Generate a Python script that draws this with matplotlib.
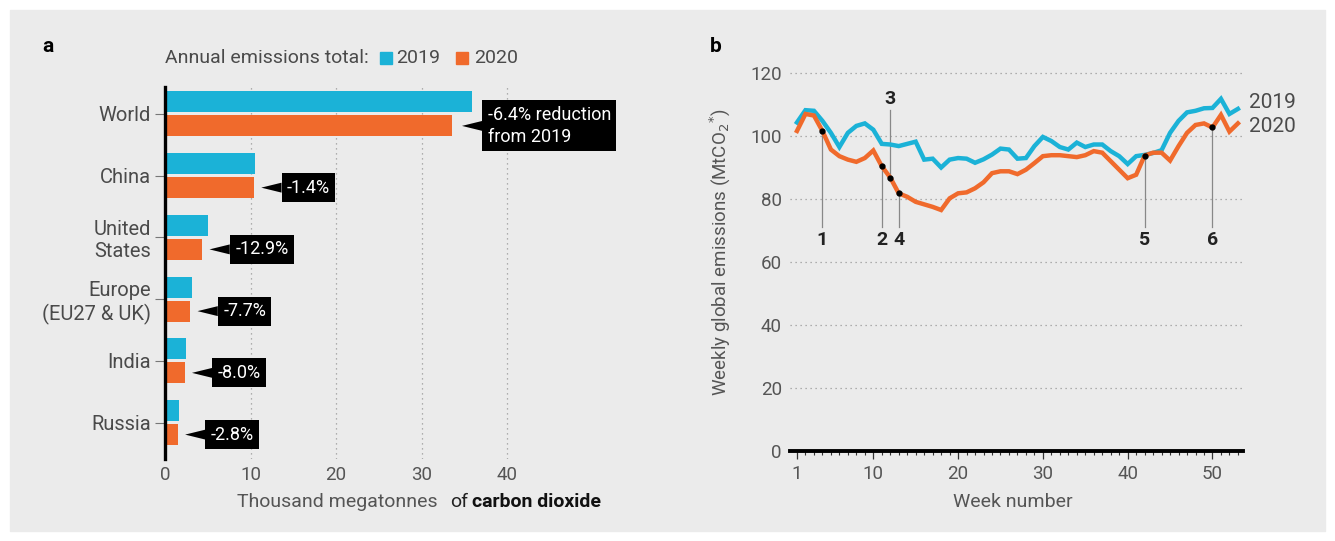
import numpy as np
import matplotlib
matplotlib.use("Agg")
import matplotlib.pyplot as plt
from matplotlib.patches import Rectangle

plt.rcParams['font.family'] = ['Roboto', 'DejaVu Sans']

# panel a: annual totals (thousand Mt CO2)
regions = ["World", "China", "United\nStates", "Europe\n(EU27 & UK)", "India", "Russia"]
total_2019 = [35.9, 10.5, 5.0, 3.1, 2.5, 1.6]
total_2020 = [33.5, 10.4, 4.35, 2.95, 2.3, 1.5]
change_labels = ["-6.4% reduction\nfrom 2019", "-1.4%", "-12.9%", "-7.7%", "-8.0%", "-2.8%"]

# panel b: weekly global emissions (MtCO2)
weeks = list(range(1, 54))
emis_2019 = [104.3, 108.2, 108.0, 104.8, 101.0, 96.5, 101.0, 103.2, 104.0, 102.0,
             97.5, 97.3, 96.8, 97.5, 98.2, 92.5, 92.8, 90.0, 92.5, 93.0,
             92.8, 91.5, 92.6, 94.1, 96.0, 95.7, 92.8, 93.0, 96.8, 99.7,
             98.4, 96.5, 95.7, 97.9, 96.5, 97.3, 97.3, 95.2, 93.6, 91.1,
             93.6, 94.0, 94.6, 95.5, 101.0, 104.8, 107.5, 108.0, 108.8, 108.9,
             111.8, 107.0, 108.6]
emis_2020 = [101.6, 107.0, 106.5, 101.6, 95.7, 93.6, 92.5, 91.8, 93.0, 95.4,
             90.4, 86.8, 81.8, 80.7, 79.1, 78.3, 77.5, 76.5, 80.2, 81.8,
             82.1, 83.4, 85.3, 88.2, 88.8, 88.8, 87.9, 89.3, 91.4, 93.6,
             93.9, 93.9, 93.6, 93.3, 93.9, 95.2, 94.7, 92.0, 89.3, 86.6,
             87.7, 93.8, 94.7, 94.7, 92.2, 96.8, 101.0, 103.5, 104.0, 102.7,
             106.7, 101.4, 104.0]
event_weeks = [4, 11, 12, 13, 42, 50]
event_labels = ["1", "2", "3", "4", "5", "6"]

C19 = '#1BB2D7'
C20 = '#F06A2C'
BG = '#EBEBEB'
GREY = '#4a4a4a'

W, H = 1335, 541
fig = plt.figure(figsize=(W / 100, H / 100), dpi=100, facecolor='white')
fig.patches.append(Rectangle((10 / W, 10 / H), 1 - 20 / W, 1 - 20 / H,
                             transform=fig.transFigure, color=BG, zorder=-10))

def fx(x):
    return x / W

def fy(y):
    return 1 - y / H

# ---------------- panel a ----------------
ax = fig.add_axes([fx(165), fy(459), fx(610) - fx(165), fy(86.7) - fy(459)])
ax.set_facecolor('none')
ypos = np.arange(len(regions))
h = 0.34
ax.barh(ypos - 0.195, total_2019, height=h, color=C19, zorder=3)
ax.barh(ypos + 0.195, total_2020, height=h, color=C20, zorder=3)
ax.set_xlim(0, 52)
ax.set_ylim(5.59, -0.44)
ax.set_yticks(ypos)
ax.set_yticklabels(regions, fontsize=14.5, color=GREY, linespacing=1.2)
ax.set_xticks([0, 10, 20, 30, 40])
ax.tick_params(axis='x', length=0, pad=5, labelsize=13.5, labelcolor='#555555')
ax.tick_params(axis='y', length=7, width=0.8, color='#777777', pad=3)
for s in ['top', 'right', 'bottom']:
    ax.spines[s].set_visible(False)
ax.spines['left'].set_linewidth(2.4)
ax.spines['left'].set_color('black')
ax.spines['left'].set_zorder(4)
ax.xaxis.grid(True, linestyle=(0, (1, 3)), color='#999999', linewidth=0.9)
ax.set_axisbelow(True)

for i, (v, lab) in enumerate(zip(total_2020, change_labels)):
    gap = 1.2 if i == 0 else 0.85
    tip = v + gap
    ax.annotate(lab, xy=(tip, i + 0.195), xytext=(tip + 3.0, i + 0.195),
                ha='left', va='center', color='white', fontsize=13,
                linespacing=1.3,
                bbox=dict(boxstyle='square,pad=0.3', fc='black', ec='none'),
                arrowprops=dict(arrowstyle='wedge,tail_width=0.55,shrink_factor=0.5',
                                fc='black', ec='none', shrinkA=0, shrinkB=0),
                zorder=5, annotation_clip=False)

fig.text(fx(48), fy(46), "a", fontsize=15, fontweight='bold', ha='center', va='center')
fig.text(fx(165), fy(58), "Annual emissions total:", fontsize=14, color=GREY,
         ha='left', va='center')
fig.patches.append(Rectangle((fx(380), fy(64)), 12 / W, 12 / H, color=C19,
                             transform=fig.transFigure))
fig.text(fx(396), fy(58), "2019", fontsize=14, color=GREY, ha='left', va='center')
fig.patches.append(Rectangle((fx(456), fy(64)), 12 / W, 12 / H, color=C20,
                             transform=fig.transFigure))
fig.text(fx(474), fy(58), "2020", fontsize=14, color=GREY, ha='left', va='center')

fig.text(fx(237), fy(502), "Thousand megatonnes", fontsize=14, color='#555555',
         ha='left', va='center')
fig.text(fx(450), fy(502), "of", fontsize=14, color='#222222', ha='left', va='center')
fig.text(fx(472), fy(502), "carbon dioxide", fontsize=14, color='#111111',
         fontweight='bold', ha='left', va='center')

# ---------------- panel b ----------------
bx = fig.add_axes([fx(790.2), fy(451), fx(1243) - fx(790.2), fy(66.7) - fy(451)])
bx.set_facecolor('none')
bx.plot(weeks, emis_2019, color=C19, linewidth=3.2, solid_joinstyle='miter', zorder=3)
bx.plot(weeks, emis_2020, color=C20, linewidth=3.2, solid_joinstyle='miter', zorder=4)
bx.set_xlim(0.2, 53.6)
bx.set_ylim(0, 122)
bx.set_yticks([0, 20, 40, 60, 80, 100, 120])
bx.set_xticks([1, 10, 20, 30, 40, 50])
bx.set_xticks(weeks, minor=True)
bx.tick_params(axis='y', length=0, pad=6, labelsize=13.5, labelcolor='#555555')
bx.tick_params(axis='x', which='major', length=6, width=0.9, color='#333333',
               pad=4, labelsize=13.5, labelcolor='#555555')
bx.tick_params(axis='x', which='minor', length=2.8, width=0.8, color='#333333')
for s in ['top', 'right', 'left']:
    bx.spines[s].set_visible(False)
bx.spines['bottom'].set_linewidth(2.8)
bx.spines['bottom'].set_color('black')
bx.yaxis.grid(True, linestyle=(0, (1, 3)), color='#999999', linewidth=0.9)
bx.set_axisbelow(True)

ev_vals = [emis_2020[w - 1] for w in event_weeks]
for w, v, lab in zip(event_weeks, ev_vals, event_labels):
    if lab == "3":
        bx.plot([w, w], [v, 108.3], color='#888888', linewidth=0.9, zorder=2)
        bx.text(w, 111.6, lab, ha='center', va='center', fontsize=14,
                fontweight='bold', color='#222222')
    else:
        bx.plot([w, w], [v, 71.2], color='#888888', linewidth=0.9, zorder=2)
        bx.text(w, 67, lab, ha='center', va='center', fontsize=14,
                fontweight='bold', color='#222222')
bx.plot(event_weeks, ev_vals, 'o', color='black', markersize=3.5, zorder=5)

bx.text(54.3, 110.5, "2019", ha='left', va='center', fontsize=15, color=GREY,
        clip_on=False)
bx.text(54.3, 103, "2020", ha='left', va='center', fontsize=15, color=GREY,
        clip_on=False)

fig.text(fx(716), fy(46), "b", fontsize=15, fontweight='bold', ha='center', va='center')
fig.text(fx(1013), fy(501.7), "Week number", fontsize=14, color='#555555',
         ha='center', va='center')
fig.text(fx(720), fy(252), "Weekly global emissions (MtCO$_2$$^{*}$)", fontsize=13.5,
         color='#555555', rotation=90, ha='center', va='center')

fig.savefig("out.png", dpi=100, facecolor=fig.get_facecolor())
